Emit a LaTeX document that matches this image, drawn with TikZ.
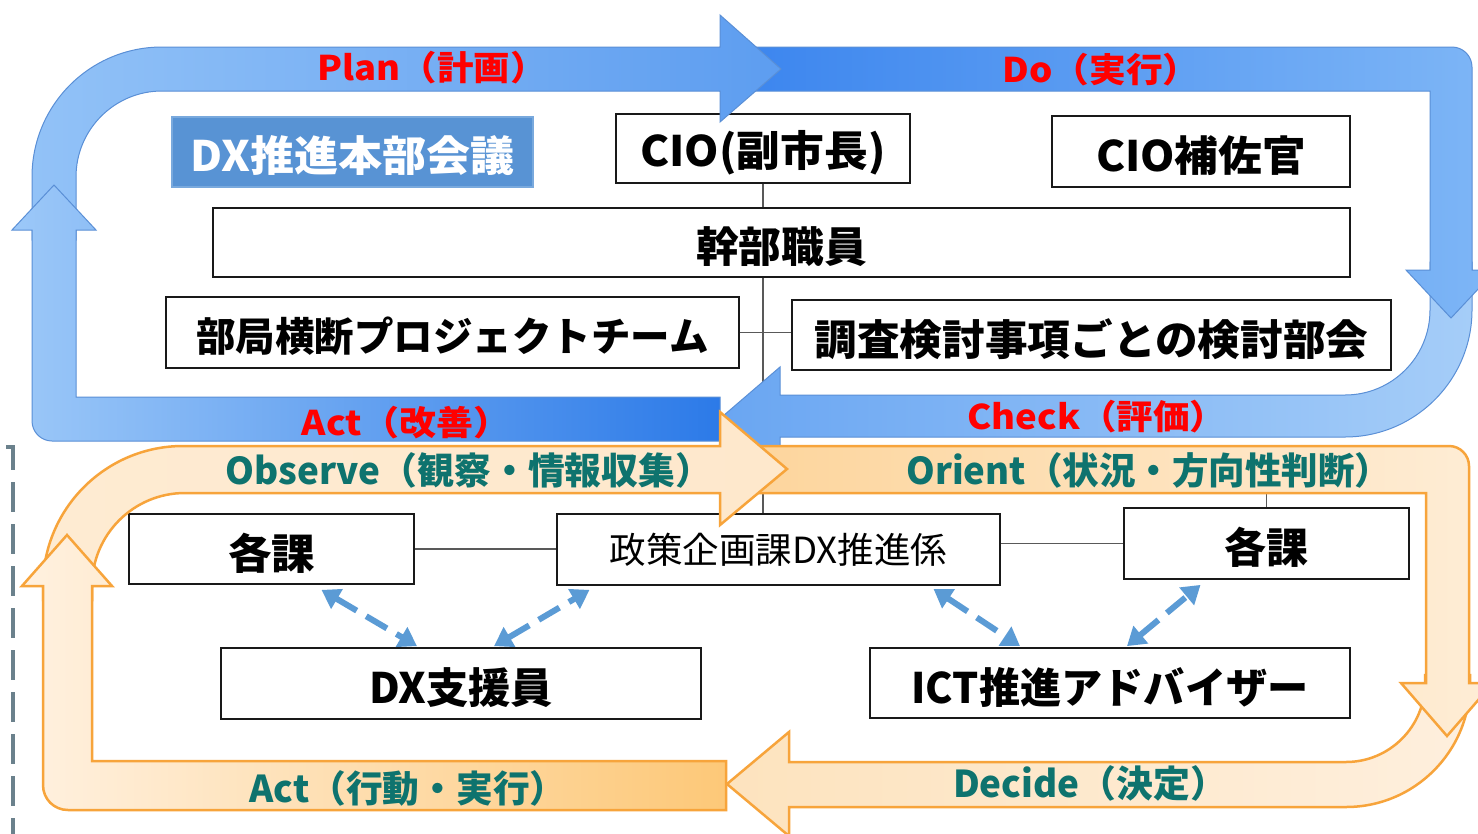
\documentclass[tikz,border=0pt]{standalone}
\usepackage{fontspec}
\setmainfont{Noto Sans CJK JP}
\usepackage{graphicx}
\usetikzlibrary{arrows.meta,calc}
\definecolor{pdcared}{HTML}{FF0000}
\definecolor{teal}{HTML}{0E736E}
\definecolor{arrblue}{HTML}{5B9BD5}
\definecolor{honbublue}{HTML}{5893D4}
\definecolor{bedge}{HTML}{5A8FD6}
\definecolor{oedge}{HTML}{F7A43B}
\definecolor{dashgray}{HTML}{6B818C}
\newcommand{\fitw}[3]{\resizebox{#1pt}{\height}{\fontsize{#2pt}{#2pt}\selectfont #3}}
\newcommand{\boxtxt}[3]{\raisebox{-4pt}[\height][\depth]{\fitw{#1}{#2}{#3}}}
\tikzset{
  box/.style={draw=black!90, line width=1.8pt, fill=white, inner sep=0pt, font=\bfseries},
  conn/.style={draw=black!65, line width=1.2pt},
  blueband/.style={draw=bedge, line width=1pt},
  orangeband/.style={draw=oedge, line width=2.5pt, line join=miter},
  redlab/.style={text=pdcared, font=\bfseries, inner sep=0pt},
  teallab/.style={text=teal, font=\bfseries, inner sep=0pt},
  dblarr/.style={draw=arrblue, line width=6pt, dash pattern=on 24pt off 11pt,
    {Triangle[length=18pt,width=22pt]}-{Triangle[length=18pt,width=22pt]}},
}
\begin{document}
\begin{tikzpicture}[x=1pt,y=-1pt]
\useasboundingbox (0,0) rectangle (1478,833);
\fill[white] (0,0) rectangle (1478,833);

% left dashed line
\draw[dashgray, line width=4.5pt, dash pattern=on 30pt off 12pt] (6,447) -- (13,447) -- (13,845);

% boxes (top)
\node[box, draw=honbublue!80!white, fill=honbublue, text=white, minimum width=361pt, minimum height=70pt] (honbu) at (352.5,152) {\boxtxt{324}{42}{DX推進本部会議}};
\node[box, minimum width=294pt, minimum height=69pt] (cio) at (763,148.5) {\boxtxt{245}{42}{CIO(副市長)}};
\node[box, minimum width=298pt, minimum height=71pt] (hosa) at (1201,151.5) {\boxtxt{210}{42}{CIO補佐官}};
\node[box, minimum width=1137pt, minimum height=69pt] (kanbu) at (781.5,242.5) {\boxtxt{171}{42}{幹部職員}};
\node[box, minimum width=573pt, minimum height=71pt] (bukyoku) at (452.5,332.5) {\boxtxt{512}{40}{部局横断プロジェクトチーム}};
\node[box, minimum width=599pt, minimum height=70pt] (chosa) at (1091.5,335) {\boxtxt{554}{42}{調査検討事項ごとの検討部会}};
% boxes (bottom)
\node[box, minimum width=285pt, minimum height=70pt] (kakaL) at (271.5,549) {\boxtxt{87}{42}{各課}};
\node[box, font=\mdseries, minimum width=443pt, minimum height=71pt] (seisaku) at (778.5,549.5) {\fitw{338}{36}{政策企画課DX推進係}};
\node[box, minimum width=285pt, minimum height=71pt] (kakaR) at (1266.5,543.5) {\boxtxt{84}{42}{各課}};
\node[box, minimum width=480pt, minimum height=71pt] (dxs) at (461,683.5) {\boxtxt{184}{42}{DX支援員}};
\node[box, minimum width=480pt, minimum height=70pt] (ict) at (1110,683) {\boxtxt{397}{42}{ICT推進アドバイザー}};

% connector lines
\draw[conn] (cio.south) -- (cio.south |- kanbu.north);
\draw[conn] (kanbu.south -| cio.south) -- (cio.south |- seisaku.north);
\draw[conn] (bukyoku.east) -- (bukyoku.east -| chosa.west);
\draw[conn] (kakaL.east) -- (kakaL.east -| seisaku.west);
\draw[conn] (seisaku.east |- kakaR.west) -- (kakaR.west);
\draw[conn] (kakaR.north) -- ++(0,-25);

% blue PDCA loop
% Check
\path[blueband, left color={rgb,255:red,106;green,166;blue,242}, right color={rgb,255:red,165;green,205;blue,248}]
  (1430,262) -- (1430,310) .. controls (1430,357) and (1392,395) .. (1345,395)
  -- (780,395) -- (780,367) -- (723,416) -- (780,465) -- (780,437)
  -- (1345,437) .. controls (1415,437) and (1472,380) .. (1472,310) -- (1472,262) -- cycle;
% Do
\path[blueband, left color={rgb,255:red,58;green,132;blue,238}, right color={rgb,255:red,126;green,182;blue,246}]
  (720,47) -- (1452,47) .. controls (1463,47) and (1472,56) .. (1472,67)
  -- (1472,270) -- (1496,270) -- (1451,318) -- (1406,270) -- (1430,270)
  -- (1430,91) -- (720,91) -- cycle;
% Plan
\path[blueband, left color={rgb,255:red,146;green,194;blue,247}, right color={rgb,255:red,93;green,157;blue,240}]
  (32,240) -- (32,177) .. controls (32,105) and (90,47) .. (162,47)
  -- (720,47) -- (720,15) -- (781,69) -- (720,122) -- (720,91)
  -- (162,91) .. controls (114.5,91) and (76,129.5) .. (76,177) -- (76,240) -- cycle;
% Act (blue)
\path[blueband, left color={rgb,255:red,156;green,200;blue,248}, right color={rgb,255:red,44;green,122;blue,232}]
  (720,397) -- (720,441) -- (52,441) .. controls (41,441) and (32,432) .. (32,421)
  -- (32,230) -- (12,230) -- (54,185) -- (96,230) -- (76,230) -- (76,397) -- cycle;

% orange OODA loop
% Decide
\path[orangeband, left color={rgb,255:red,253;green,227;blue,190}, right color={rgb,255:red,254;green,239;blue,221}]
  (1425,675) -- (1425,683) .. controls (1425,726.6) and (1389.6,762) .. (1346,762)
  -- (789,762) -- (789,732) -- (727,784) -- (789,836) -- (789,807)
  -- (1346,807) .. controls (1414.5,807) and (1470,751.5) .. (1470,683) -- (1470,675) -- cycle;
% Orient
\path[orangeband, left color={rgb,255:red,253;green,212;blue,154}, right color={rgb,255:red,254;green,237;blue,214}]
  (720,446) -- (1449,446) .. controls (1460,446) and (1469,455) .. (1469,466)
  -- (1469,683) -- (1493,683) -- (1447,736) -- (1401,683) -- (1426,683)
  -- (1426,493) -- (720,493) -- cycle;
% Observe
\path[orangeband, left color={rgb,255:red,254;green,235;blue,210}, right color={rgb,255:red,254;green,232;blue,204}]
  (43,600) -- (43,586) .. controls (43,508.7) and (105.7,446) .. (183,446)
  -- (720,446) -- (720,412) -- (787,469) -- (720,525) -- (720,493)
  -- (185,493) .. controls (133.6,493) and (92,534.6) .. (92,586) -- (92,600) -- cycle;
% Act (orange)
\path[orangeband, left color={rgb,255:red,255;green,241;blue,224}, right color={rgb,255:red,253;green,200;blue,120}]
  (726,761) -- (726,810) -- (68,810) .. controls (54,810) and (43,799) .. (43,785)
  -- (43,586) -- (22,586) -- (67,535) -- (112,586) -- (92,586) -- (92,761) -- cycle;

% dashed double arrows
\draw[dblarr] ([xshift=50pt,yshift=-5pt]kakaL.south) -- ([xshift=-44pt,yshift=1pt]dxs.north);
\draw[dblarr] ([xshift=33pt,yshift=1pt]dxs.north) -- ([xshift=-189pt,yshift=-4pt]seisaku.south);
\draw[dblarr] ([xshift=155pt,yshift=-3pt]seisaku.south) -- ([xshift=-90pt,yshift=1pt]ict.north);
\draw[dblarr] ([xshift=17pt,yshift=1pt]ict.north) -- ([xshift=-66pt,yshift=-5pt]kakaR.south);

% labels
\node[redlab] (plan) at (432,68) {\fitw{229}{34}{Plan（計画）}};
\node[redlab] (do) at (1101,70) {\fitw{197}{34}{Do（実行）}};
\node[redlab] (actb) at (406,423) {\fitw{208}{34}{Act（改善）}};
\node[redlab] (check) at (1097,417) {\fitw{259}{34}{Check（評価）}};
\node[teallab] (observe) at (469,470) {\fitw{486}{37}{Observe（観察・情報収集）}};
\node[teallab] (orient) at (1149,470) {\fitw{485}{37}{Orient（状況・方向性判断）}};
\node[teallab] (acto) at (408,788) {\fitw{317}{37}{Act（行動・実行）}};
\node[teallab] (decide) at (1090,783) {\fitw{274}{37}{Decide（決定）}};
\end{tikzpicture}
\end{document}
